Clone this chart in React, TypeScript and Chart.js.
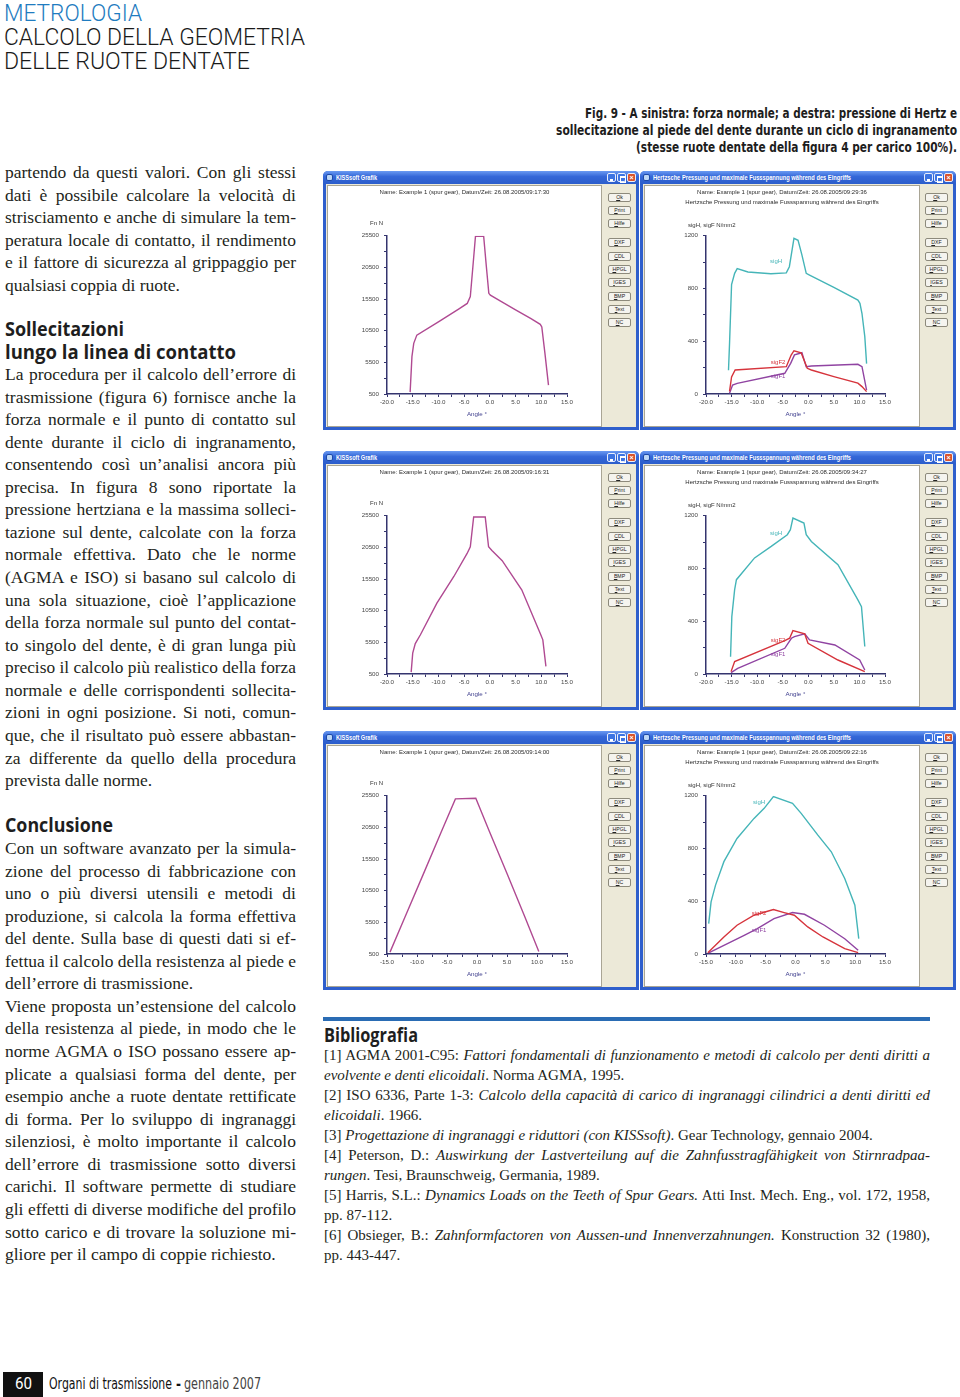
import React, { useEffect, useLayoutEffect, useRef } from 'react';
import { Chart, registerables } from 'chart.js';
Chart.register(...registerables);

// ================= DATA =================
const ANGLE_TICKS_WIDE = [-20, -15, -10, -5, 0, 5, 10, 15];
const ANGLE_TICKS_NARROW = [-15, -10, -5, 0, 5, 10, 15];
const FN_TICKS = [500, 5500, 10500, 15500, 20500, 25500];
const SIG_TICKS = [0, 400, 800, 1200];

// A: normal force, top-left
const ANGLE_A = [-15.5, -15.15, -14.8, -14.2, -10.0, -6.0, -4.4, -3.8, -3.3, -2.8, -1.2, -0.7, -0.2, 0.1, 2.0, 5.0, 8.0, 9.8, 10.1, 10.7, 11.4];
const FN_A = [800, 6400, 8500, 9800, 11900, 13950, 14800, 15900, 20600, 25400, 25400, 20800, 16400, 16100, 15200, 13800, 12400, 11500, 11100, 7000, 1900];

// B: normal force, middle-left
const ANGLE_B = [-15.3, -15.0, -14.5, -13.5, -10.3, -7.0, -4.45, -3.8, -3.15, -0.9, -0.25, 0.4, 2.4, 6.2, 9.8, 10.3, 10.9];
const FN_B = [800, 3800, 5300, 6700, 11700, 15900, 19500, 20600, 25300, 25300, 20600, 20000, 18400, 13800, 6900, 5900, 1700];

// C: normal force, bottom-left
const ANGLE_C = [-14.5, -12.0, -9.0, -6.0, -3.6, -0.2, 2.0, 5.0, 8.0, 10.3];
const FN_C = [800, 6350, 13000, 19700, 25000, 25100, 20000, 13200, 6300, 900];

// D: Hertz pressure / root stress, top-right
const ANGLE_D_H = [-15.6, -15.4, -15.0, -14.4, -13.9, -11.8, -7.3, -4.3, -3.7, -2.8, -2.0, -1.25, -0.4, 0.25, 5.0, 9.7, 10.1, 10.5, 11.05, 11.4];
const SIGH_D = [180, 380, 830, 915, 950, 925, 912, 918, 965, 1180, 1165, 1055, 915, 902, 808, 712, 687, 610, 435, 230];
const ANGLE_D_F2 = [-15.4, -15.0, -14.3, -4.3, -3.35, -2.8, -1.4, -0.2, 0.6, 5.0, 9.7, 10.5, 11.4];
const SIGF2_D = [20, 130, 182, 207, 295, 328, 313, 195, 182, 132, 82, 56, 18];
const ANGLE_D_F1 = [-15.4, -14.8, -13.9, -4.6, -3.45, -2.7, -1.25, -0.4, 0.6, 9.7, 10.5, 11.4];
const SIGF1_D = [5, 68, 81, 157, 232, 296, 313, 207, 212, 225, 207, 30];

// E: Hertz pressure / root stress, middle-right
const ANGLE_E_H = [-15.2, -14.95, -14.4, -14.05, -10.5, -7.25, -4.1, -3.5, -3.0, -0.85, -0.4, 0.6, 5.8, 9.7, 10.4, 11.05];
const SIGH_E = [130, 435, 640, 715, 880, 967, 1056, 1094, 1182, 1144, 1056, 1005, 828, 562, 511, 208];
const ANGLE_E_F2 = [-15.1, -14.4, -4.6, -3.65, -3.0, -0.7, -0.05, 5.8, 11.05];
const SIGF2_E = [18, 94, 253, 271, 329, 304, 233, 106, 18];
const ANGLE_E_F1 = [-15.1, -13.8, -4.6, -3.3, -2.7, -0.7, 0.25, 5.2, 10.05, 11.05];
const SIGF1_E = [10, 43, 195, 271, 284, 304, 258, 220, 106, 30];

// F: Hertz pressure / root stress, bottom-right
const ANGLE_F_H = [-14.55, -14.15, -13.4, -12.0, -9.8, -6.95, -5.25, -3.7, -0.5, 0.95, 3.75, 6.0, 8.25, 9.95, 10.6];
const SIGH_F = [230, 395, 522, 700, 876, 1028, 1104, 1193, 1142, 1066, 901, 775, 572, 370, 116];
const ANGLE_F_F2 = [-14.7, -12.0, -9.8, -6.95, -3.7, -1.9, -0.2, 2.05, 4.6, 8.25, 10.5];
const SIGF2_F = [10, 129, 218, 294, 337, 314, 294, 205, 129, 40, 10];
const ANGLE_F_F1 = [-14.55, -12.0, -8.6, -6.4, -3.6, -0.5, 1.5, 4.85, 8.25, 10.5];
const SIGF1_F = [8, 66, 142, 192, 268, 314, 301, 218, 116, 28];

// in-plot series labels (data coordinates)
const LABELS_D = [{ text: 'sigH', x: -6.3, y: 1008 }, { text: 'sigF2', x: -5.9, y: 237 }, { text: 'sigF1', x: -5.9, y: 136 }];
const LABELS_E = [{ text: 'sigH', x: -6.3, y: 1068 }, { text: 'sigF2', x: -5.9, y: 258 }, { text: 'sigF1', x: -5.9, y: 152 }];
const LABELS_F = [{ text: 'sigH', x: -6.1, y: 1150 }, { text: 'sigF2', x: -6.1, y: 306 }, { text: 'sigF1', x: -6.1, y: 180 }];

const STAMPS = ['26.08.2005/09:17:30', '26.08.2005/09:29:36', '26.08.2005/09:16:31', '26.08.2005/09:34:27', '26.08.2005/09:14:00', '26.08.2005/09:22:16'];

// ================= STYLE =================
const AXIS = '#34346e';
const TICK_TXT = '#474747';
const CFONT = "'Liberation Sans', Arial, sans-serif";
const C_FN = '#b04a92';
const C_H = '#45b5b8';
const C_F2 = '#d6343c';
const C_F1 = '#9044a2';
const LABEL_COLORS = [C_H, C_F2, C_F1];

const SERIF = "'Liberation Serif', 'DejaVu Serif', serif";
const SANSB = "'Open Sans', 'Liberation Sans', sans-serif";
const COND = "'Liberation Sans Narrow', 'DejaVu Sans Condensed', 'Liberation Sans', sans-serif";
const ROBOTO = "Roboto, 'Liberation Sans', sans-serif";

function withMinors(majors: number[]) {
  const out: number[] = [];
  majors.forEach((v, i) => {
    out.push(v);
    if (i < majors.length - 1) out.push((v + majors[i + 1]) / 2);
  });
  return out;
}

function fmtAngle(v: number) {
  const s = v.toFixed(1);
  return s === '-0.0' ? '0.0' : s;
}

type Ser = { xs: number[]; ys: number[]; color: string };
type Lbl = { text: string; x: number; y: number };

function buildConfig(o: {
  xt: number[]; yt: number[]; yW: number; series: Ser[]; titles: string[]; unit: string; unitDx: number; unitDy: number; labels: Lbl[];
}) {
  const textPlugin = {
    id: 'kissText',
    afterDraw(chart: any) {
      const { ctx, chartArea, scales } = chart;
      ctx.save();
      ctx.font = `6px ${CFONT}`;
      ctx.fillStyle = '#2b2b2b';
      ctx.textAlign = 'center';
      ctx.textBaseline = 'middle';
      o.titles.forEach((t, i) => ctx.fillText(t, chart.width / 2, 7 + i * 10.7));
      ctx.textAlign = 'left';
      ctx.fillStyle = '#333';
      ctx.fillText(o.unit, chartArea.left + o.unitDx, chartArea.top + o.unitDy);
      ctx.textAlign = 'center';
      o.labels.forEach((l, i) => {
        ctx.fillStyle = LABEL_COLORS[i];
        ctx.fillText(l.text, scales.x.getPixelForValue(l.x), scales.y.getPixelForValue(l.y));
      });
      ctx.restore();
    },
  };
  return {
    type: 'line' as const,
    data: {
      datasets: o.series.map((s) => ({
        data: s.xs.map((x, i) => ({ x, y: s.ys[i] })),
        borderColor: s.color,
        borderWidth: 1.4,
        pointRadius: 0,
        tension: 0,
        fill: false,
      })),
    },
    options: {
      responsive: false,
      animation: false as const,
      events: [] as any[],
      layout: { padding: { top: 50.7, right: 35, left: 0, bottom: 0 } },
      plugins: { legend: { display: false }, tooltip: { enabled: false }, title: { display: false } },
      scales: {
        x: {
          type: 'linear' as const,
          min: o.xt[0],
          max: o.xt[o.xt.length - 1],
          afterBuildTicks: (s: any) => { s.ticks = withMinors(o.xt).map((value) => ({ value })); },
          afterFit: (s: any) => { s.height = 33; },
          ticks: {
            autoSkip: false, maxRotation: 0, minRotation: 0, padding: 2, color: TICK_TXT,
            font: { family: CFONT, size: 6.2 },
            callback: (v: any) => (o.xt.includes(Number(v)) ? fmtAngle(Number(v)) : ''),
          },
          grid: { drawOnChartArea: false, drawTicks: true, tickLength: 3, color: AXIS, lineWidth: 1 },
          border: { display: true, color: AXIS, width: 1.5 },
          title: { display: true, text: 'Angle °', color: '#3f3f8e', font: { family: CFONT, size: 6.2 }, padding: { top: 0, bottom: 9 } },
        },
        y: {
          type: 'linear' as const,
          min: o.yt[0],
          max: o.yt[o.yt.length - 1],
          afterBuildTicks: (s: any) => { s.ticks = withMinors(o.yt).map((value) => ({ value })); },
          afterFit: (s: any) => { s.width = o.yW; },
          ticks: {
            autoSkip: false, padding: 5, color: TICK_TXT,
            font: { family: CFONT, size: 6.2 },
            callback: (v: any) => (o.yt.includes(Number(v)) ? String(v) : ''),
          },
          grid: { drawOnChartArea: false, drawTicks: true, tickLength: 3, color: AXIS, lineWidth: 1 },
          border: { display: true, color: AXIS, width: 1.5 },
        },
      },
    },
    plugins: [textPlugin],
  };
}

const nameLine = (stamp: string) => `Name: Example 1 (spur gear), Datum/Zeit: ${stamp}`;
const HERTZ_TITLE = 'Hertzsche Pressung und maximale Fussspannung während des Eingriffs';

const fnConfig = (xs: number[], ys: number[], xt: number[], stamp: string) =>
  buildConfig({ xt, yt: FN_TICKS, yW: 60, series: [{ xs, ys, color: C_FN }], titles: [nameLine(stamp)], unit: 'Fn N', unitDx: -17, unitDy: -12.4, labels: [] });

const sigConfig = (s: Ser[], xt: number[], stamp: string, labels: Lbl[]) =>
  buildConfig({ xt, yt: SIG_TICKS, yW: 62, series: s, titles: [nameLine(stamp), HERTZ_TITLE], unit: 'sigH, sigF N/mm2', unitDx: -18, unitDy: -10.7, labels });

// ================= COMPONENTS =================
function TL(props: {
  x: number; y: number; w?: number; size: number; family: string; weight?: number | string; color?: string;
  mode?: 'justify' | 'fit' | 'left'; lh?: number; italic?: boolean; children: React.ReactNode;
}) {
  const { x, y, w, size, family, weight = 400, color = '#231f20', mode = 'left', lh, children } = props;
  const ref = useRef<HTMLSpanElement>(null);
  useLayoutEffect(() => {
    const el = ref.current;
    if (!el) return;
    const apply = () => {
      el.style.wordSpacing = '0px';
      el.style.transform = 'none';
      const W = el.getBoundingClientRect().width;
      if (!w || !W) return;
      if (mode === 'justify') {
        const n = (el.textContent || '').split(' ').length - 1;
        if (W < w && n > 0) el.style.wordSpacing = (w - W) / n + 'px';
        else if (W > w) el.style.transform = `scaleX(${w / W})`;
      } else if (mode === 'fit' || W > w) {
        el.style.transform = `scaleX(${w / W})`;
      }
    };
    apply();
    if ((document as any).fonts) (document as any).fonts.ready.then(apply);
  }, []);
  const L = lh ?? Math.round(size * 1.25);
  return (
    <span
      ref={ref}
      style={{
        position: 'absolute', left: x, top: y - L / 2 - 1, lineHeight: L + 'px', height: L, fontSize: size,
        fontFamily: family, fontWeight: weight as any, color, whiteSpace: 'nowrap', display: 'inline-block',
        transformOrigin: 'left center', fontStyle: props.italic ? 'italic' : 'normal',
      }}
    >
      {children}
    </span>
  );
}

function KissChart({ w, h, make }: { w: number; h: number; make: () => any }) {
  const ref = useRef<HTMLCanvasElement>(null);
  useEffect(() => {
    const chart = new Chart(ref.current as HTMLCanvasElement, make());
    return () => chart.destroy();
  }, []);
  return <canvas ref={ref} width={w} height={h} style={{ position: 'absolute', left: 0, top: 0, width: w, height: h }} />;
}

const PANEL_BUTTONS: [string, number][] = [
  ['Ok', 22], ['Print', 35], ['Hilfe', 48], ['DXF', 67], ['CDL', 81], ['HPGL', 94], ['IGES', 107], ['BMP', 121], ['Text', 134], ['NC', 147],
];

function KissWindow(props: { left: number; top: number; title: string; titleW: number; whiteW: number; children: React.ReactNode }) {
  const { left, top, title, titleW, whiteW, children } = props;
  const tbtn = (x: number, bg: string, glyph: React.ReactNode) => (
    <div style={{ position: 'absolute', left: x, top: 2, width: 9, height: 9, background: bg, border: '1px solid #e8eefc', borderRadius: 2, boxSizing: 'border-box', color: '#fff', fontSize: 7, lineHeight: '7px', textAlign: 'center', fontFamily: CFONT, fontWeight: 700 }}>{glyph}</div>
  );
  return (
    <div style={{ position: 'absolute', left, top, width: 316, height: 259, background: '#2f5fcc', borderRadius: '5px 5px 0 0', overflow: 'hidden' }}>
      <div style={{ position: 'absolute', left: 0, top: 0, width: 316, height: 14, background: 'linear-gradient(#6a9af2, #3467d8 40%, #2b5cc9)' }} />
      <div style={{ position: 'absolute', left: 3, top: 3, width: 7, height: 7, background: '#bcd6f6', borderRadius: 2, border: '1px solid #1d4aa8', boxSizing: 'border-box' }} />
      <TL x={13} y={7.5} w={titleW} size={6.5} family={CFONT} weight={700} color="#ffffff" mode="fit">{title}</TL>
      {tbtn(284, '#3d74e2', <div style={{ position: 'absolute', left: 2, top: 5, width: 3, height: 1.5, background: '#fff' }} />)}
      {tbtn(294, '#3d74e2', <div style={{ position: 'absolute', left: 1.5, top: 1.5, width: 4, height: 4, border: '1px solid #fff', borderTopWidth: 2 }} />)}
      {tbtn(304, '#d9532c', '×')}
      <div style={{ position: 'absolute', left: 3, top: 13, width: 310, height: 243, background: '#ece9d8' }} />
      <div style={{ position: 'absolute', left: 4, top: 14, width: whiteW, height: 242, background: '#ffffff', boxShadow: 'inset 0 0 0 1px #a9a595' }}>
        {children}
      </div>
      {PANEL_BUTTONS.map(([t, y]) => (
        <div key={t} style={{ position: 'absolute', left: 285, top: y, width: 23, height: 9, background: '#f5f4ef', border: '1px solid #8d8a7c', borderRadius: 2, boxSizing: 'border-box', fontFamily: CFONT, fontSize: 5.2, lineHeight: '7px', textAlign: 'center', color: '#222' }}>
          <span style={{ textDecoration: 'underline' }}>{t[0]}</span>{t.slice(1)}
        </div>
      ))}
    </div>
  );
}

// ================= TEXT =================
const PITCH = 22.56;
const PARAS: { y0: number; lines: string[] }[] = [
  {
    y0: 173,
    lines: [
      'partendo da questi valori. Con gli stessi',
      'dati è possibile calcolare la velocità di',
      'strisciamento e anche di simulare la tem-',
      'peratura locale di contatto, il rendimento',
      'e il fattore di sicurezza al grippaggio per',
      'qualsiasi coppia di ruote.',
    ],
  },
  {
    y0: 375,
    lines: [
      'La procedura per il calcolo dell’errore di',
      'trasmissione (figura 6) fornisce anche la',
      'forza normale e il punto di contatto sul',
      'dente durante il ciclo di ingranamento,',
      'consentendo così un’analisi ancora più',
      'precisa. In figura 8 sono riportate la',
      'pressione hertziana e la massima solleci-',
      'tazione sul dente, calcolate con la forza',
      'normale effettiva. Dato che le norme',
      '(AGMA e ISO) si basano sul calcolo di',
      'una sola situazione, cioè l’applicazione',
      'della forza normale sul punto del contat-',
      'to singolo del dente, è di gran lunga più',
      'preciso il calcolo più realistico della forza',
      'normale e delle corrispondenti sollecita-',
      'zioni in ogni posizione. Si noti, comun-',
      'que, che il risultato può essere abbastan-',
      'za differente da quello della procedura',
      'prevista dalle norme.',
    ],
  },
  {
    y0: 849,
    lines: [
      'Con un software avanzato per la simula-',
      'zione del processo di fabbricazione con',
      'uno o più diversi utensili e metodi di',
      'produzione, si calcola la forma effettiva',
      'del dente. Sulla base di questi dati si ef-',
      'fettua il calcolo della resistenza al piede e',
      'dell’errore di trasmissione.',
    ],
  },
  {
    y0: 1006.9,
    lines: [
      'Viene proposta un’estensione del calcolo',
      'della resistenza al piede, in modo che le',
      'norme AGMA o ISO possano essere ap-',
      'plicate a qualsiasi forma del dente, per',
      'esempio anche a ruote dentate rettificate',
      'di forma. Per lo sviluppo di ingranaggi',
      'silenziosi, è molto importante il calcolo',
      'dell’errore di trasmissione sotto diversi',
      'carichi. Il software permette di studiare',
      'gli effetti di diverse modifiche del profilo',
      'sotto carico e di trovare la soluzione mi-',
      'gliore per il campo di coppie richiesto.',
    ],
  },
];

const BIB: { y: number; j: boolean; parts: [string, boolean][] }[] = [
  { y: 1056, j: true, parts: [['[1] AGMA 2001-C95: ', false], ['Fattori fondamentali di funzionamento e metodi di calcolo per denti diritti a', true]] },
  { y: 1076, j: false, parts: [['evolvente e denti elicoidali', true], ['. Norma AGMA, 1995.', false]] },
  { y: 1096, j: true, parts: [['[2] ISO 6336, Parte 1-3: ', false], ['Calcolo della capacità di carico di ingranaggi cilindrici a denti diritti ed', true]] },
  { y: 1116, j: false, parts: [['elicoidali', true], ['. 1966.', false]] },
  { y: 1136, j: false, parts: [['[3] ', false], ['Progettazione di ingranaggi e riduttori (con KISSsoft)', true], ['. Gear Technology, gennaio 2004.', false]] },
  { y: 1156, j: true, parts: [['[4] Peterson, D.: ', false], ['Auswirkung der Lastverteilung auf die Zahnfusstragfähigkeit von Stirnradpaa-', true]] },
  { y: 1176, j: false, parts: [['rungen', true], ['. Tesi, Braunschweig, Germania, 1989.', false]] },
  { y: 1196, j: true, parts: [['[5] Harris, S.L.: ', false], ['Dynamics Loads on the Teeth of Spur Gears.', true], [' Atti Inst. Mech. Eng., vol. 172, 1958,', false]] },
  { y: 1216, j: false, parts: [['pp. 87-112.', false]] },
  { y: 1236, j: true, parts: [['[6] Obsieger, B.: ', false], ['Zahnformfactoren von Aussen-und Innenverzahnungen.', true], [' Konstruction 32 (1980),', false]] },
  { y: 1256, j: false, parts: [['pp. 443-447.', false]] },
];

// ================= APP =================
export default function App() {
  const WL = 323, WR = 640;
  const rows = [171, 451, 731];
  return (
    <div style={{ position: 'absolute', left: 0, top: 0, width: 960, height: 1397, background: '#ffffff', overflow: 'hidden' }}>
      {/* header */}
      <TL x={4} y={14} w={138} size={24} family={ROBOTO} weight={300} color="#1f7cc0" mode="fit">METROLOGIA</TL>
      <TL x={4} y={38} w={301} size={24} family={ROBOTO} weight={300} color="#1a1a1a" mode="fit">CALCOLO DELLA GEOMETRIA</TL>
      <TL x={4} y={62} w={246} size={24} family={ROBOTO} weight={300} color="#1a1a1a" mode="fit">DELLE RUOTE DENTATE</TL>

      {/* caption */}
      <TL x={957 - 372} y={114} w={372} size={14} family={COND} weight={700} color="#1d1d1d" mode="fit">Fig. 9 - A sinistra: forza normale; a destra: pressione di Hertz e</TL>
      <TL x={957 - 401} y={131} w={401} size={14} family={COND} weight={700} color="#1d1d1d" mode="fit">sollecitazione al piede del dente durante un ciclo di ingranamento</TL>
      <TL x={957 - 321} y={148} w={321} size={14} family={COND} weight={700} color="#1d1d1d" mode="fit">(stesse ruote dentate della figura 4 per carico 100%).</TL>

      {/* body text */}
      {PARAS.map((p, pi) =>
        p.lines.map((t, i) => (
          <TL key={pi + '-' + i} x={5} y={p.y0 + i * PITCH} w={291} size={17.5} family={SERIF} mode={i === p.lines.length - 1 ? 'left' : 'justify'}>{t}</TL>
        ))
      )}
      <TL x={5} y={329} w={119} size={20} family={SANSB} weight={700} color="#1e1e1e" mode="fit">Sollecitazioni</TL>
      <TL x={5} y={352} w={231} size={20} family={SANSB} weight={700} color="#1e1e1e" mode="fit">lungo la linea di contatto</TL>
      <TL x={5} y={825} w={108} size={20} family={SANSB} weight={700} color="#1e1e1e" mode="fit">Conclusione</TL>

      {/* bibliography */}
      <div style={{ position: 'absolute', left: 323, top: 1017, width: 607, height: 4, background: '#2a6cb4' }} />
      <TL x={324} y={1035} w={94} size={20} family={SANSB} weight={700} color="#1e1e1e" mode="fit">Bibliografia</TL>
      {BIB.map((b, i) => (
        <TL key={'b' + i} x={324} y={b.y} w={606} size={15} family={SERIF} mode={b.j ? 'justify' : 'left'}>
          {b.parts.map(([t, it], k) => (it ? <i key={k}>{t}</i> : <span key={k}>{t}</span>))}
        </TL>
      ))}

      {/* footer */}
      <div style={{ position: 'absolute', left: 3, top: 1372, width: 40, height: 25, background: '#111' }} />
      <TL x={15} y={1385} w={17} size={16} family={ROBOTO} weight={400} color="#ffffff" mode="fit">60</TL>
      <TL x={49} y={1385} w={123} size={16} family={COND} weight={400} color="#111" mode="fit">Organi di trasmissione</TL>
      <TL x={176} y={1385} w={5} size={16} family={COND} weight={700} color="#111" mode="fit">-</TL>
      <TL x={184} y={1385} w={77} size={16} family={COND} weight={300} color="#444" mode="fit">gennaio 2007</TL>

      {/* chart windows */}
      <KissWindow left={WL} top={rows[0]} title="KISSsoft Grafik" titleW={41} whiteW={275}>
        <KissChart w={275} h={242} make={() => fnConfig(ANGLE_A, FN_A, ANGLE_TICKS_WIDE, STAMPS[0])} />
      </KissWindow>
      <KissWindow left={WR} top={rows[0]} title={HERTZ_TITLE} titleW={198} whiteW={276}>
        <KissChart w={276} h={242} make={() => sigConfig([
          { xs: ANGLE_D_H, ys: SIGH_D, color: C_H },
          { xs: ANGLE_D_F2, ys: SIGF2_D, color: C_F2 },
          { xs: ANGLE_D_F1, ys: SIGF1_D, color: C_F1 },
        ], ANGLE_TICKS_WIDE, STAMPS[1], LABELS_D)} />
      </KissWindow>

      <KissWindow left={WL} top={rows[1]} title="KISSsoft Grafik" titleW={41} whiteW={275}>
        <KissChart w={275} h={242} make={() => fnConfig(ANGLE_B, FN_B, ANGLE_TICKS_WIDE, STAMPS[2])} />
      </KissWindow>
      <KissWindow left={WR} top={rows[1]} title={HERTZ_TITLE} titleW={198} whiteW={276}>
        <KissChart w={276} h={242} make={() => sigConfig([
          { xs: ANGLE_E_H, ys: SIGH_E, color: C_H },
          { xs: ANGLE_E_F2, ys: SIGF2_E, color: C_F2 },
          { xs: ANGLE_E_F1, ys: SIGF1_E, color: C_F1 },
        ], ANGLE_TICKS_WIDE, STAMPS[3], LABELS_E)} />
      </KissWindow>

      <KissWindow left={WL} top={rows[2]} title="KISSsoft Grafik" titleW={41} whiteW={275}>
        <KissChart w={275} h={242} make={() => fnConfig(ANGLE_C, FN_C, ANGLE_TICKS_NARROW, STAMPS[4])} />
      </KissWindow>
      <KissWindow left={WR} top={rows[2]} title={HERTZ_TITLE} titleW={198} whiteW={276}>
        <KissChart w={276} h={242} make={() => sigConfig([
          { xs: ANGLE_F_H, ys: SIGH_F, color: C_H },
          { xs: ANGLE_F_F2, ys: SIGF2_F, color: C_F2 },
          { xs: ANGLE_F_F1, ys: SIGF1_F, color: C_F1 },
        ], ANGLE_TICKS_NARROW, STAMPS[5], LABELS_F)} />
      </KissWindow>
    </div>
  );
}
